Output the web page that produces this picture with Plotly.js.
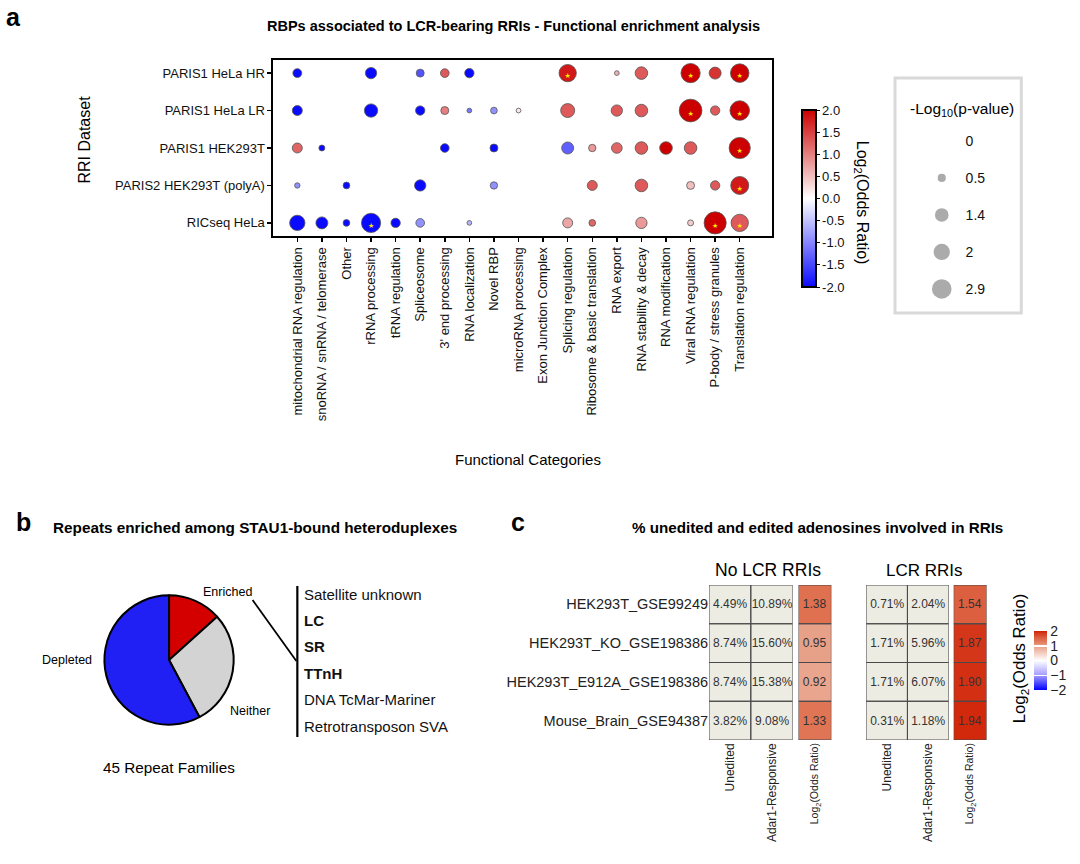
<!DOCTYPE html>
<html>
<head>
<meta charset="utf-8">
<script src="https://cdn.plot.ly/plotly-3.0.1.min.js"></script>
<style>html,body{margin:0;padding:0;background:#fff;}#chart{width:1080px;height:864px;}</style>
</head>
<body>
<div id="chart"></div>
<script>
// ---------- Panel a data ----------
const categories = ["mitochondrial RNA regulation","snoRNA / snRNA / telomerase","Other","rRNA processing","tRNA regulation","Spliceosome","3' end processing","RNA localization","Novel RBP","microRNA processing","Exon Junction Complex","Splicing regulation","Ribosome & basic translation","RNA export","RNA stability & decay","RNA modification","Viral RNA regulation","P-body / stress granules","Translation regulation"];
const datasets = ["PARIS1 HeLa HR","PARIS1 HeLa LR","PARIS1 HEK293T","PARIS2 HEK293T (polyA)","RICseq HeLa"];
// log2 odds ratio per category (null = not shown)
const orHR  = [-2,null,null,-2,null,-1.4,1.3,-2,null,null,null,1.8,null,0.6,1.3,null,2,1.6,2];
const orLR  = [-2,null,null,-2,null,-2,1.0,-1.1,-0.9,0.2,null,1.3,null,1.3,1.3,null,2,1.3,2];
const orHEK = [1.2,-2,null,null,null,null,-2,null,-2,null,null,-1.3,0.8,1.2,1.3,2,1.3,null,2];
const orP2  = [-0.9,null,-2,null,null,-2,null,null,-0.9,null,null,null,1.3,null,1.3,null,0.5,1.3,1.8];
const orRIC = [-2,-2,-2,-2,-2,-0.9,null,-0.6,null,null,null,0.7,1.2,null,0.8,null,0.4,2,1.3];
// -log10(p-value) per category
const pHR  = [0.6,null,null,0.97,null,0.48,0.57,0.66,null,null,null,2.27,null,0.17,1.2,null,2.8,1.09,2.6];
const pLR  = [0.76,null,null,1.34,null,0.66,0.48,0.17,0.34,0.17,null,1.48,null,0.97,1.2,null,3.9,0.66,2.9];
const pHEK = [0.76,0.27,null,null,null,null,0.57,null,0.48,null,null,1.09,0.41,0.86,1.2,1.2,1.2,null,3.4];
const pP2  = [0.22,null,0.34,null,null,0.97,null,null,0.41,null,null,null,0.76,null,1.2,null,0.48,0.66,2.45];
const pRIC = [1.78,1.09,0.34,2.8,0.66,0.57,null,0.17,null,null,null,0.76,0.34,null,0.97,null,0.27,3.7,2.27];
// significant (starred) category indices
const starHR = [11,16,18], starLR = [16,18], starHEK = [18], starP2 = [18], starRIC = [3,17,18];
const legendVals = [0,0.5,1.4,2,2.9];
const legendLabels = ["0","0.5","1.4","2","2.9"];

// ---------- Panel b data ----------
const pieLabels = ["Enriched","Neither","Depleted"];
const pieValues = [6,13,26];
const enrichedRepeats = ["Satellite unknown","LC","SR","TTnH","DNA TcMar-Mariner","Retrotransposon SVA"];
const enrichedBold = [false,true,true,true,false,false];

// ---------- Panel c data ----------
const rowLabels = ["HEK293T_GSE99249","HEK293T_KO_GSE198386","HEK293T_E912A_GSE198386","Mouse_Brain_GSE94387"];
const colLabels = ["Unedited","Adar1-Responsive"];
const noLcrUnedited = [4.49,8.74,8.74,3.82];
const noLcrAdar = [10.89,15.60,15.38,9.08];
const noLcrOR = [1.38,0.95,0.92,1.33];
const lcrUnedited = [0.71,1.71,1.71,0.31];
const lcrAdar = [2.04,5.96,6.07,1.18];
const lcrOR = [1.54,1.87,1.90,1.94];

// ---------- helpers ----------
const F = "Liberation Sans, Arial, sans-serif";
const W = 1080, H = 864;
const X = v => v / W, Y = v => 1 - v / H;
const sizeOf = p => 11.5 * Math.sqrt(p);

const orRows = [orHR, orLR, orHEK, orP2, orRIC];
const pRows = [pHR, pLR, pHEK, pP2, pRIC];
const starRows = [starHR, starLR, starHEK, starP2, starRIC];

const dx = [], dy = [], dc = [], ds = [];
orRows.forEach((row, r) => row.forEach((v, c) => {
  if (v === null) return;
  dx.push(categories[c]); dy.push(datasets[r]); dc.push(v); ds.push(sizeOf(pRows[r][c]));
}));
const sx = [], sy = [];
starRows.forEach((list, r) => list.forEach(c => { sx.push(categories[c]); sy.push(datasets[r]); }));

const scaleA = [[0,'#0A0AFF'],[0.5,'#FFFFFF'],[1,'#CC0000']];
const scaleC = [[0,'#0000FF'],[0.25,'#A49CFF'],[0.5,'#FFFFFF'],[0.73,'#E9A58D'],[0.8325,'#E07555'],[0.885,'#DC6040'],[0.9675,'#D43619'],[1,'#D01E00']];

const traces = [];
traces.push({
  type:'scatter', mode:'markers', x:dx, y:dy, xaxis:'x', yaxis:'y', hoverinfo:'skip',
  marker:{size:ds, sizemode:'diameter', color:dc, colorscale:scaleA, cmin:-2, cmax:2,
    line:{color:'#555', width:0.8}, opacity:1,
    colorbar:{x:X(806), xanchor:'left', xpad:0, ypad:0, y:Y(198.5), yanchor:'middle',
      len:177/H, lenmode:'fraction', thickness:14, outlinewidth:2, outlinecolor:'#000',
      tickvals:[-2,-1.5,-1,-0.5,0,0.5,1,1.5,2], ticktext:['-2.0','-1.5','-1.0','-0.5','0.0','0.5','1.0','1.5','2.0'],
      ticks:'outside', ticklen:3, tickcolor:'#000', tickfont:{family:F, size:13, color:'#111'}}}
});
traces.push({
  type:'scatter', mode:'text', x:sx, y:sy, xaxis:'x', yaxis:'y', hoverinfo:'skip',
  text:sx.map(()=>'\u2605'), textposition:'bottom center',
  textfont:{family:'DejaVu Sans', size:7, color:'#FFE600'}
});
traces.push({
  type:'scatter', mode:'markers', x:legendVals.map(()=>0), y:legendLabels, xaxis:'x2', yaxis:'y2', hoverinfo:'skip',
  marker:{size:legendVals.map(sizeOf), sizemode:'diameter', color:'#888888', line:{width:0}}
});
traces.push({
  type:'pie', labels:pieLabels, values:pieValues, sort:false, direction:'clockwise', rotation:0,
  textinfo:'none', hoverinfo:'skip', showlegend:false,
  marker:{colors:['#D40000','#D3D3D3','#2020F5'], line:{color:'#000', width:2}},
  domain:{x:[X(105), X(235)], y:[Y(725), Y(595)]}
});
function pctZ(a, b){ return a.map((v,i)=>[v, b[i]]); }
const rowIdx = rowLabels.map((_,i)=>i);
const txtFont = {family:F, size:12, color:'#333'};
traces.push({type:'heatmap', x:[0,1], y:rowIdx, z:pctZ(noLcrUnedited, noLcrAdar), xaxis:'x3', yaxis:'y3',
  colorscale:[[0,'#EDECE3'],[1,'#EDECE3']], showscale:false, texttemplate:'%{z:.2f}%', textfont:txtFont, hoverinfo:'skip'});
traces.push({type:'heatmap', x:[0], y:rowIdx, z:noLcrOR.map(v=>[v]), xaxis:'x4', yaxis:'y4',
  colorscale:scaleC, zmin:-2, zmax:2, showscale:false, texttemplate:'%{z:.2f}', textfont:txtFont, hoverinfo:'skip'});
traces.push({type:'heatmap', x:[0,1], y:rowIdx, z:pctZ(lcrUnedited, lcrAdar), xaxis:'x5', yaxis:'y5',
  colorscale:[[0,'#EDECE3'],[1,'#EDECE3']], showscale:false, texttemplate:'%{z:.2f}%', textfont:txtFont, hoverinfo:'skip'});
traces.push({type:'heatmap', x:[0], y:rowIdx, z:lcrOR.map(v=>[v]), xaxis:'x6', yaxis:'y6',
  colorscale:scaleC, zmin:-2, zmax:2, texttemplate:'%{z:.2f}', textfont:txtFont, hoverinfo:'skip',
  colorbar:{x:X(1040), xanchor:'left', xpad:0, ypad:0, y:Y(660.5), yanchor:'middle', len:59/H, lenmode:'fraction',
    thickness:13, outlinewidth:0, ticks:'inside', ticklen:13, tickcolor:'#fff', tickwidth:1.5,
    tickvals:[-2,-1,0,1,2], ticktext:['\u22122','\u22121','0','1','2'], tickfont:{family:F, size:14, color:'#222'}}});

// ---------- shapes ----------
const shapes = [];
shapes.push({type:'rect', xref:'paper', yref:'paper', x0:X(900), x1:X(1027), y0:Y(313), y1:Y(78), line:{color:'#D9D9D9', width:3}});
shapes.push({type:'line', xref:'paper', yref:'paper', x0:X(254), y0:Y(600), x1:X(298), y1:Y(661), line:{color:'#000', width:1.8}});
shapes.push({type:'line', xref:'paper', yref:'paper', x0:X(299), y0:Y(586), x1:X(299), y1:Y(737), line:{color:'#000', width:2.2}});
[['x3','y3',2],['x4','y4',1],['x5','y5',2],['x6','y6',1]].forEach(([xr,yr,nc])=>{
  rowLabels.forEach((_,i)=>{ for(let j=0;j<nc;j++){
    shapes.push({type:'rect', xref:xr, yref:yr, x0:j-0.5, x1:j+0.5, y0:i-0.5, y1:i+0.5, line:{color:'#4a4a4a', width:1}, layer:'above'});
  }});
});

// ---------- annotations ----------
function A(text, x, y, size, o){
  return Object.assign({text, x:X(x), y:Y(y), xref:'paper', yref:'paper', showarrow:false, xanchor:'center', yanchor:'middle',
    font:{family:F, size, color:'#000'}}, o||{});
}
const ann = [
  A('<b>a</b>', 4, 17, 25, {xanchor:'left'}),
  A('<b>RBPs associated to LCR-bearing RRIs - Functional enrichment analysis</b>', 516, 26, 14.5),
  A('RRI Dataset', 85, 140, 16, {textangle:-90}),
  A('Functional Categories', 531, 459, 15),
  A('Log<sub>2</sub>(Odds Ratio)', 867, 203, 16, {textangle:90}),
  A('-Log<sub>10</sub>(p-value)', 967, 109, 15.5),
  A('<b>b</b>', 14, 522, 25, {xanchor:'left'}),
  A('<b>Repeats enriched among STAU1-bound heteroduplexes</b>', 256, 527, 15.3),
  A(pieLabels[0], 229, 592, 12.5),
  A(pieLabels[1], 251, 711, 12.5),
  A(pieLabels[2], 67, 660, 12.5),
  A('45 Repeat Families', 170, 767, 15.3),
  A('<b>c</b>', 512, 522, 25, {xanchor:'left'}),
  A('<b>% unedited and edited adenosines involved in RRIs</b>', 822, 527, 15.2),
  A('No LCR RRIs', 772, 570, 17.5),
  A('LCR RRIs', 930, 570, 17),
  A('Log<sub>2</sub>(Odds Ratio)', 1026, 658, 16.8, {textangle:-90})
];
enrichedRepeats.forEach((t,i)=>{
  ann.push(A(enrichedBold[i] ? '<b>'+t+'</b>' : t, 304, 594 + i*26.4, 15, {xanchor:'left', font:{family:F, size:15, color:'#111'}}));
});

const noGrid = {showgrid:false, zeroline:false, fixedrange:true};
const hmX = (d0,d1,anchor,vals,txt,size)=>Object.assign({domain:[X(d0),X(d1)], anchor, range:[-0.5, vals.length-0.5], tickvals:vals, ticktext:txt,
  tickangle:-90, ticks:'', tickfont:{family:F, size, color:'#222'}, showline:false}, noGrid);
const hmY = (anchor, show)=>Object.assign({domain:[Y(740),Y(585)], anchor, range:[3.5,-0.5], tickvals:rowIdx, ticktext:rowLabels,
  showticklabels:show, ticks:'', tickfont:{family:F, size:14.5, color:'#222'}, showline:false}, noGrid);

const layout = {
  width:W, height:H, margin:{l:0,r:0,t:0,b:0}, paper_bgcolor:'#fff', plot_bgcolor:'#fff', showlegend:false,
  font:{family:F, color:'#000'},
  xaxis:Object.assign({domain:[X(275),X(776)], anchor:'y', type:'category', categoryorder:'array', categoryarray:categories,
    range:[-0.97,19.3], tickangle:-90, tickfont:{family:F,size:13,color:'#111'}, showline:true, mirror:true, linewidth:2, linecolor:'#000',
    ticks:'outside', ticklen:4, tickwidth:1.5, tickcolor:'#000'}, noGrid),
  yaxis:Object.assign({domain:[Y(236),Y(60)], anchor:'x', type:'category', categoryorder:'array', categoryarray:datasets,
    range:[4.35,-0.35], tickfont:{family:F,size:13,color:'#111'}, showline:true, mirror:true, linewidth:2, linecolor:'#000',
    ticks:'outside', ticklen:4, tickwidth:1.5, tickcolor:'#000'}, noGrid),
  xaxis2:Object.assign({domain:[X(910),X(970)], anchor:'y2', range:[-0.617,0.383], visible:false}, noGrid),
  yaxis2:Object.assign({domain:[Y(313),Y(78)], anchor:'x2', type:'category', categoryorder:'array', categoryarray:legendLabels,
    range:[4.65,-1.70], side:'right', ticks:'', showline:false, tickfont:{family:F,size:14,color:'#111'}}, noGrid),
  xaxis3:hmX(713,797,'y3',[0,1],colLabels,12),
  yaxis3:hmY('x3', true),
  xaxis4:hmX(803,836,'y4',[0],['Log<sub>2</sub>(Odds Ratio)'],10.5),
  yaxis4:hmY('x4', false),
  xaxis5:hmX(871,954,'y5',[0,1],colLabels,12),
  yaxis5:hmY('x5', false),
  xaxis6:hmX(959,992,'y6',[0],['Log<sub>2</sub>(Odds Ratio)'],10.5),
  yaxis6:hmY('x6', false),
  shapes, annotations:ann
};
Plotly.newPlot('chart', traces, layout, {staticPlot:true, displayModeBar:false});
</script>
</body>
</html>
